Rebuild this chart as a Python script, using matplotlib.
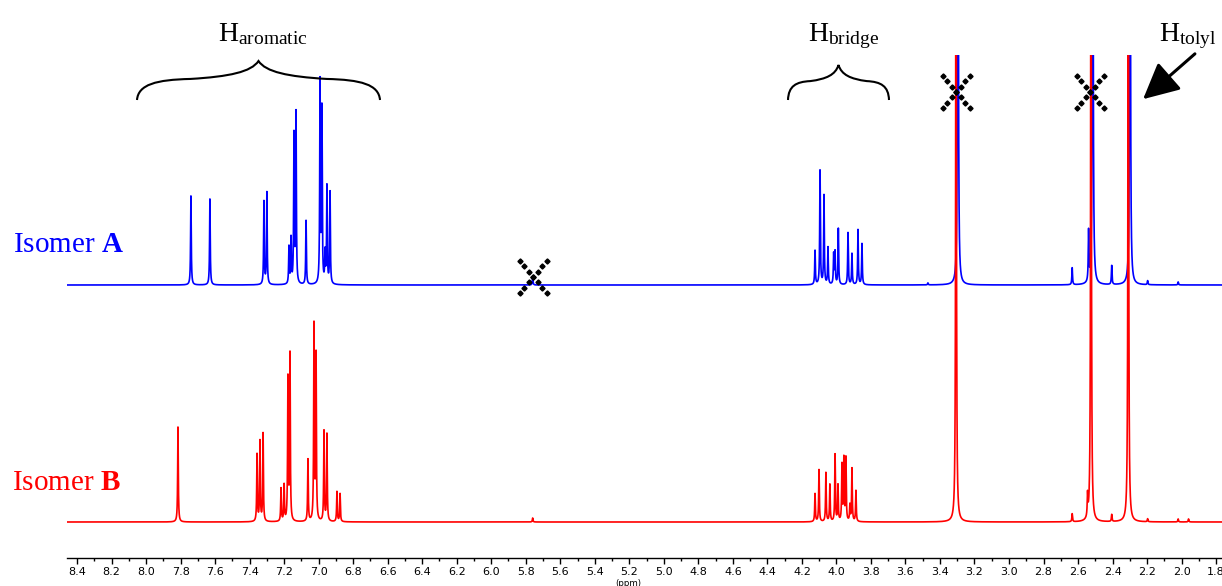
import numpy as np
import matplotlib
matplotlib.use("Agg")
import matplotlib.pyplot as plt
from matplotlib.path import Path
from matplotlib.patches import PathPatch, FancyArrowPatch
from matplotlib.ticker import MultipleLocator, FormatStrFormatter
from matplotlib.transforms import Affine2D

# peak tables (ppm, height above baseline)
blue_arom_ppm = [7.740, 7.630, 7.317, 7.300, 7.172, 7.160, 7.143, 7.131, 7.073,
                 6.992, 6.981, 6.963, 6.952, 6.934]
blue_arom_h = [89, 86, 83, 92, 37, 45, 148, 170, 64, 201, 173, 30, 97, 92]

red_arom_ppm = [7.815, 7.357, 7.340, 7.322, 7.218, 7.200, 7.178, 7.166, 7.062,
                7.027, 7.015, 6.969, 6.952, 6.894, 6.876]
red_arom_h = [95, 67, 80, 88, 33, 36, 142, 166, 62, 195, 165, 90, 87, 30, 28]

blue_bridge_ppm = [4.124, 4.095, 4.072, 4.049, 4.016, 4.008, 3.989, 3.933,
                   3.910, 3.875, 3.852]
blue_bridge_h = [34, 114, 89, 37, 30, 32, 56, 52, 31, 55, 41]

red_bridge_ppm = [4.124, 4.101, 4.061, 4.038, 4.008, 3.991, 3.968, 3.957,
                  3.945, 3.922, 3.910, 3.887]
red_bridge_h = [28, 52, 49, 37, 67, 36, 56, 62, 63, 16, 53, 31]

# solvent / methyl / small peaks (tall ones run off the top)
blue_other_ppm = [5.760, 3.470, 3.296, 2.634, 2.539, 2.515, 2.405, 2.299, 2.197, 2.020]
blue_other_h = [8, 2, 800, 17, 50, 800, 19, 800, 4, 3]

red_other_ppm = [5.760, 3.307, 2.634, 2.545, 2.525, 2.405, 2.309, 2.197, 2.020, 1.960]
red_other_h = [4, 800, 8, 22, 800, 7, 800, 3, 3, 3]

tick_step = 0.2

W, H = 1222, 586
plt.rcParams["mathtext.fontset"] = "custom"
plt.rcParams["mathtext.rm"] = "Liberation Serif"
plt.rcParams["mathtext.it"] = "Liberation Serif:italic"
plt.rcParams["mathtext.bf"] = "Liberation Serif:bold"


def spectrum(ppm, pos, heights, gamma=0.0022):
    y = np.zeros_like(ppm)
    for p, h in zip(pos, heights):
        y += h / (1.0 + ((ppm - p) / gamma) ** 2)
    return y


fig = plt.figure(figsize=(W / 100, H / 100), dpi=100)
ax = fig.add_axes([67 / W, (H - 558) / H, (W - 67) / W, 503 / H])

ppm = np.linspace(8.46, 1.76, 80001)
blue = spectrum(ppm, blue_arom_ppm + blue_bridge_ppm + blue_other_ppm,
                blue_arom_h + blue_bridge_h + blue_other_h)
red = spectrum(ppm, red_arom_ppm + red_bridge_ppm + red_other_ppm,
               red_arom_h + red_bridge_h + red_other_h)

ax.plot(ppm, blue + 273, color="#0000ff", lw=1.2, zorder=2)
ax.plot(ppm, red + 36, color="#ff0000", lw=1.2, zorder=3)

ax.set_xlim(8.458, 1.766)
ax.set_ylim(0, 503)
for s in ["top", "left", "right"]:
    ax.spines[s].set_visible(False)
ax.spines["bottom"].set_linewidth(1.0)
ax.set_yticks([])
ax.xaxis.set_major_locator(MultipleLocator(tick_step))
ax.xaxis.set_minor_locator(MultipleLocator(tick_step / 2))
ax.xaxis.set_major_formatter(FormatStrFormatter("%.1f"))
ax.tick_params(axis="x", which="major", length=4, width=1, labelsize=8, pad=2.5)
ax.tick_params(axis="x", which="minor", length=2.5, width=1)
fig.text(628 / W, 1 - 583 / H, "(ppm)", fontsize=6.2, ha="center", va="center")

# annotations in pixel coordinates (y down)
pix = Affine2D().scale(1 / W, -1 / H).translate(0, 1) + fig.transFigure


def brace(x0, x1, yb, yt):
    xc = (x0 + x1) / 2
    w = x1 - x0
    h = yb - yt
    ym = yb - 0.52 * h
    verts = [(x0, yb),
             (x0 + 0.005 * w, yb - 0.4 * h), (x0 + 0.08 * w, ym), (x0 + 0.22 * w, ym - 0.02 * h),
             (xc - 0.12 * w, ym - 0.08 * h), (xc - 0.03 * w, ym - 0.2 * h), (xc, yt),
             (xc + 0.03 * w, ym - 0.2 * h), (xc + 0.12 * w, ym - 0.08 * h), (x1 - 0.22 * w, ym - 0.02 * h),
             (x1 - 0.08 * w, ym), (x1 - 0.005 * w, yb - 0.4 * h), (x1, yb)]
    codes = [Path.MOVETO] + [Path.CURVE4] * 12
    fig.add_artist(PathPatch(Path(verts, codes), transform=pix, fill=False,
                             lw=1.5, color="black"))


brace(137, 380, 100, 61)
brace(788, 889, 100, 65)

serif = "Liberation Serif"
fig.text(218, 41, r"H$_{\mathrm{aromatic}}$", transform=pix, fontsize=20,
         family=serif, ha="left", va="baseline")
fig.text(808, 41, r"H$_{\mathrm{bridge}}$", transform=pix, fontsize=20,
         family=serif, ha="left", va="baseline")
fig.text(1159, 41, r"H$_{\mathrm{tolyl}}$", transform=pix, fontsize=20,
         family=serif, ha="left", va="baseline")

fig.text(13, 252, r"Isomer $\mathbf{A}$", transform=pix, fontsize=21,
         family=serif, color="#0000ff", ha="left", va="baseline")
fig.text(12, 490, r"Isomer $\mathbf{B}$", transform=pix, fontsize=21,
         family=serif, color="#ff0000", ha="left", va="baseline")

fig.add_artist(FancyArrowPatch((1197, 52), (1141, 101), transform=pix,
                               arrowstyle="-|>,head_length=1.0,head_width=0.5",
                               mutation_scale=22, lw=2.2, color="black"))

# dotted crosses over the solvent / impurity peaks
steps = np.arange(-3, 4)
for cx, cy in [(956, 92), (1090, 92), (533, 277)]:
    for sgn in (1, -1):
        fig.add_artist(plt.Line2D(cx + steps * 4.5, cy + sgn * steps * 5.3,
                                  transform=pix, ls="none", marker="D",
                                  ms=2.6, color="black"))

fig.savefig("out.png", dpi=100)
